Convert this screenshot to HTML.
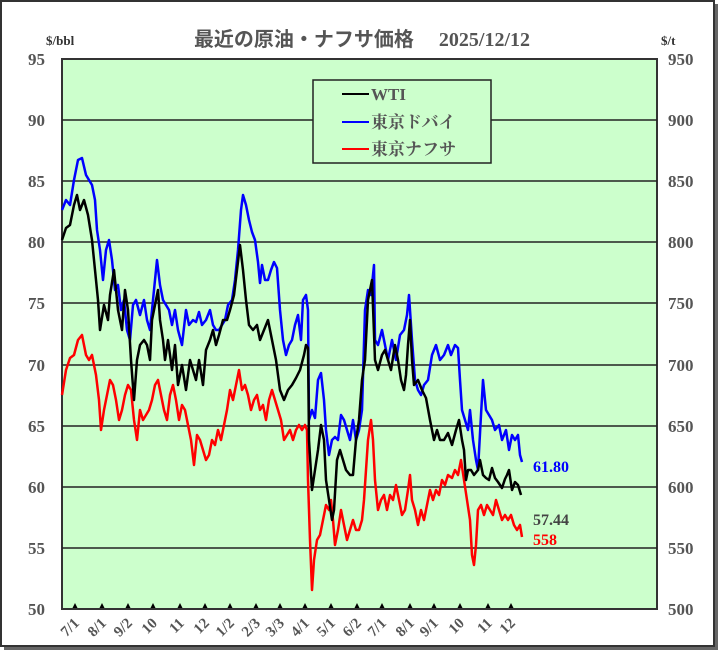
<!DOCTYPE html>
<html><head><meta charset="utf-8"><style>
html,body{margin:0;padding:0;background:#fff;}
svg text{font-family:"Liberation Serif","Noto Serif CJK SC",serif;font-weight:bold;}
</style></head><body>
<svg width="723" height="655" viewBox="0 0 723 655" xmlns="http://www.w3.org/2000/svg">
<rect x="4" y="4" width="714" height="646" fill="#666"/>
<rect x="1" y="1" width="713" height="645" fill="#fff" stroke="#333" stroke-width="2"/>
<text x="362" y="46" font-size="20" fill="#555" text-anchor="middle" style="font-family:'Liberation Serif','Noto Sans CJK JP',serif">最近の原油・ナフサ価格　 2025/12/12</text>
<text x="46" y="45" font-size="13" fill="#333">$/bbl</text>
<text x="661" y="45" font-size="13" fill="#333">$/t</text>
<rect x="62" y="59" width="595" height="550" fill="#ccffcc" stroke="#333" stroke-width="2"/>
<g stroke="#222" stroke-width="1.5">
<line x1="62" y1="120" x2="657" y2="120"/><line x1="62" y1="181" x2="657" y2="181"/>
<line x1="62" y1="242" x2="657" y2="242"/><line x1="62" y1="303" x2="657" y2="303"/>
<line x1="62" y1="365" x2="657" y2="365"/><line x1="62" y1="426" x2="657" y2="426"/>
<line x1="62" y1="487" x2="657" y2="487"/><line x1="62" y1="548" x2="657" y2="548"/>
</g>
<g font-size="17" fill="#555" text-anchor="end">
<text x="45" y="65">95</text><text x="45" y="126">90</text><text x="45" y="187">85</text><text x="45" y="248">80</text><text x="45" y="309">75</text><text x="45" y="371">70</text><text x="45" y="432">65</text><text x="45" y="493">60</text><text x="45" y="554">55</text><text x="45" y="615">50</text>
</g>
<g font-size="17" fill="#555">
<text x="668" y="65">950</text><text x="668" y="126">900</text><text x="668" y="187">850</text><text x="668" y="248">800</text><text x="668" y="309">750</text><text x="668" y="371">700</text><text x="668" y="432">650</text><text x="668" y="493">600</text><text x="668" y="554">550</text><text x="668" y="615">500</text>
</g>
<g fill="#000">
<polygon points="75,603 72.5,608 77.5,608"/><polygon points="102,603 99.5,608 104.5,608"/><polygon points="128,603 125.5,608 130.5,608"/><polygon points="153,603 150.5,608 155.5,608"/><polygon points="180,603 177.5,608 182.5,608"/><polygon points="205,603 202.5,608 207.5,608"/><polygon points="230,603 227.5,608 232.5,608"/><polygon points="256,603 253.5,608 258.5,608"/><polygon points="280,603 277.5,608 282.5,608"/><polygon points="305,603 302.5,608 307.5,608"/><polygon points="331,603 328.5,608 333.5,608"/><polygon points="357,603 354.5,608 359.5,608"/><polygon points="382,603 379.5,608 384.5,608"/><polygon points="410,603 407.5,608 412.5,608"/><polygon points="434,603 431.5,608 436.5,608"/><polygon points="460,603 457.5,608 462.5,608"/><polygon points="488,603 485.5,608 490.5,608"/><polygon points="511,603 508.5,608 513.5,608"/>
</g>
<g font-size="15" fill="#555" text-anchor="end">
<text transform="translate(80,624) rotate(-45)">7/1</text>
<text transform="translate(107,624) rotate(-45)">8/1</text>
<text transform="translate(133,624) rotate(-45)">9/2</text>
<text transform="translate(158,624) rotate(-45)">10</text>
<text transform="translate(185,624) rotate(-45)">11</text>
<text transform="translate(210,624) rotate(-45)">12</text>
<text transform="translate(235,624) rotate(-45)">1/2</text>
<text transform="translate(261,624) rotate(-45)">2/3</text>
<text transform="translate(285,624) rotate(-45)">3/3</text>
<text transform="translate(310,624) rotate(-45)">4/1</text>
<text transform="translate(336,624) rotate(-45)">5/1</text>
<text transform="translate(362,624) rotate(-45)">6/2</text>
<text transform="translate(387,624) rotate(-45)">7/1</text>
<text transform="translate(415,624) rotate(-45)">8/1</text>
<text transform="translate(439,624) rotate(-45)">9/1</text>
<text transform="translate(465,624) rotate(-45)">10</text>
<text transform="translate(493,624) rotate(-45)">11</text>
<text transform="translate(516,624) rotate(-45)">12</text>
</g>
<g fill="none" stroke-width="2.5" stroke-linejoin="round">
<polyline stroke="#ff0000" points="62,395 66,370 70,358 74,355 78,340 82,335 86,355 89,360 92,355 96,375 99,400 101,430 104,410 107,395 110,380 113,385 116,400 119,420 122,410 125,395 128,385 131,390 134,420 137,440 140,410 143,420 146,415 149,410 152,400 155,385 158,380 161,395 164,410 167,420 170,395 173,385 176,400 179,420 182,405 185,410 188,425 191,440 194,465 197,435 200,440 203,450 206,460 209,455 212,440 215,445 218,430 221,440 224,425 227,410 230,390 233,400 236,385 239,370 242,390 245,385 248,395 251,410 254,400 257,395 260,410 263,405 266,420 269,400 272,390 275,400 278,410 281,420 284,440 287,435 290,430 293,440 296,430 299,425 302,430 305,425 307,430 308,480 310,540 312,590 314,560 317,540 320,535 323,520 326,505 329,510 331,500 333,520 335,545 338,530 341,510 344,525 347,540 350,530 353,520 356,530 359,530 362,520 364,500 366,470 368,440 371,420 373,440 375,480 378,510 381,500 384,495 387,510 390,495 393,500 396,485 399,500 402,515 405,510 408,490 410,475 412,500 415,510 418,525 421,510 424,520 427,505 430,490 433,500 436,490 439,495 442,480 445,485 448,475 452,478 455,470 458,475 461,460 464,480 467,500 470,520 472,555 474,565 476,545 478,510 481,505 484,515 487,505 490,510 493,515 496,500 499,510 502,520 505,515 508,520 511,515 514,525 517,530 520,525 522,537"/>
<polyline stroke="#0000ff" points="62,210 66,200 70,205 74,180 78,160 82,158 86,175 89,180 92,185 95,200 97,230 100,250 103,280 106,250 109,240 112,260 115,290 118,285 121,310 124,300 127,330 130,340 133,305 136,300 140,315 144,300 147,320 150,330 153,300 157,260 160,285 163,300 166,305 169,310 172,325 175,310 178,330 182,345 186,310 189,325 193,320 196,322 199,312 202,325 206,320 210,310 213,325 216,330 219,330 222,325 225,320 228,305 232,300 235,280 238,250 241,210 243,195 246,205 249,220 252,232 255,240 258,262 260,283 262,265 265,280 268,280 271,270 274,262 277,268 280,310 283,340 286,355 289,345 292,340 295,325 298,315 301,340 303,300 306,295 308,310 309,420 312,410 315,418 318,380 321,373 324,400 326,430 329,455 332,440 335,437 338,440 341,415 344,420 347,430 350,440 353,420 356,440 359,430 362,410 365,310 368,290 371,295 374,265 375,340 378,345 382,330 385,345 388,360 392,340 396,360 400,335 404,330 407,315 409,295 412,340 415,380 418,390 421,395 424,385 428,380 432,355 436,345 440,360 444,355 448,345 451,355 455,345 458,348 460,380 462,410 465,420 468,430 470,410 473,440 476,460 478,470 481,415 483,380 486,410 489,415 492,420 495,430 499,425 502,440 506,430 509,450 512,435 515,440 518,435 520,455 522,462"/>
<polyline stroke="#000" points="62,240 66,228 70,225 74,205 77,195 80,210 84,200 88,215 92,240 95,270 98,300 100,330 104,305 108,320 110,295 114,270 118,310 122,330 125,290 128,310 131,360 134,400 137,360 140,345 144,340 147,345 150,360 152,320 155,305 158,290 160,320 163,340 165,360 168,340 172,370 175,345 178,385 182,365 186,390 190,360 193,370 196,380 199,360 203,385 206,350 210,340 213,330 216,345 219,335 223,320 227,320 230,310 234,295 237,270 240,245 243,270 246,300 249,325 253,330 257,325 260,340 264,330 268,320 272,340 276,360 280,390 284,400 288,390 292,385 296,378 300,370 304,355 306,345 308,348 309,440 312,490 315,470 318,450 321,425 324,440 326,480 329,500 332,520 334,510 337,460 340,450 343,460 346,470 350,475 353,475 356,440 359,420 362,380 365,360 368,300 372,280 375,360 378,370 382,355 385,350 388,360 391,370 395,345 398,360 401,380 404,390 406,375 408,345 410,320 412,360 414,385 418,380 422,390 426,398 430,420 434,440 437,430 440,440 444,440 448,433 452,445 456,430 459,420 462,440 464,450 466,480 468,470 471,470 474,475 478,470 480,460 483,475 486,478 489,480 492,468 495,478 498,482 502,488 505,479 507,475 509,470 512,490 515,482 518,485 521,495"/>
</g>
<text x="533" y="472" font-size="16" fill="#0000ff">61.80</text>
<text x="533" y="525" font-size="16" fill="#444">57.44</text>
<text x="533" y="545" font-size="16" fill="#ff0000">558</text>
<rect x="313" y="80" width="178" height="83" fill="#ccffcc" stroke="#222" stroke-width="1.5"/>
<line x1="342" y1="94" x2="369" y2="94" stroke="#000" stroke-width="2"/>
<line x1="342" y1="122" x2="369" y2="122" stroke="#0000ff" stroke-width="2"/>
<line x1="342" y1="149" x2="369" y2="149" stroke="#ff0000" stroke-width="2"/>
<g font-size="17" fill="#555" style="font-family:'Liberation Serif','Noto Sans CJK JP',serif">
<text x="371" y="100">WTI</text>
<text x="371" y="128">東京ドバイ</text>
<text x="371" y="155">東京ナフサ</text>
</g>
</svg>
</body></html>
